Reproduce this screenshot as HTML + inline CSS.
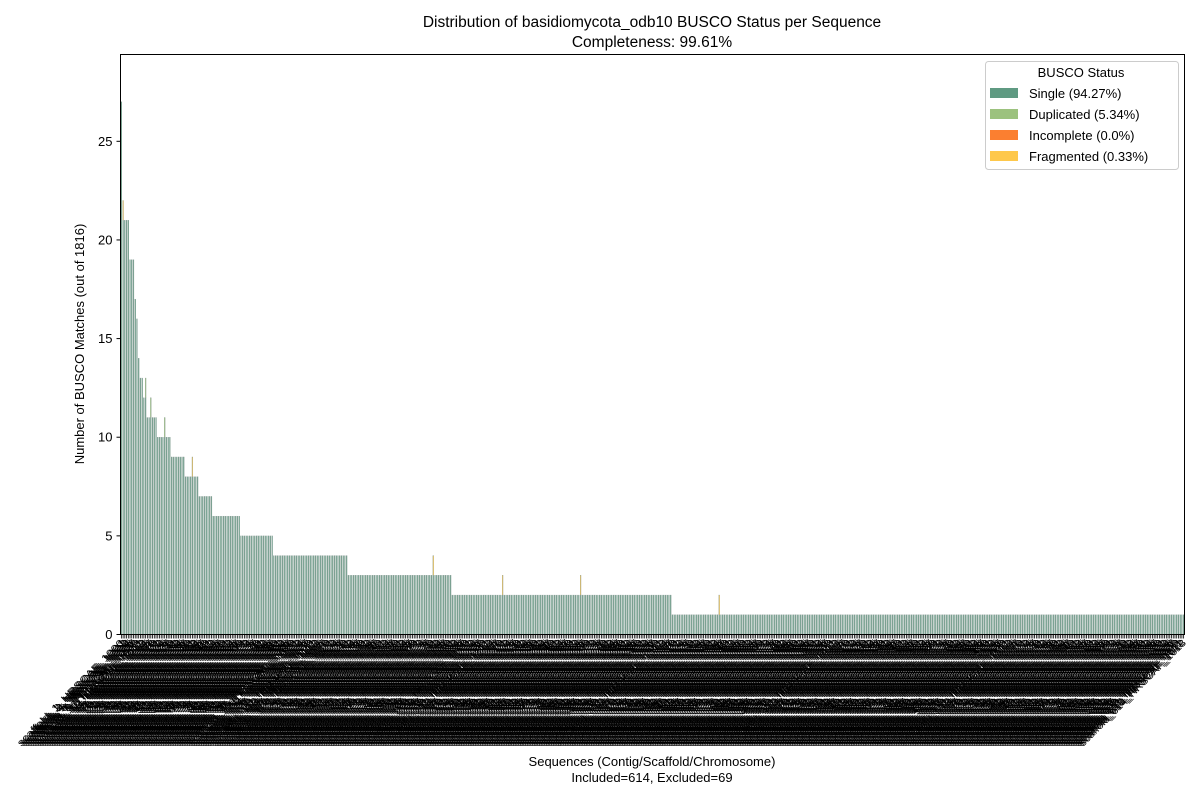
<!DOCTYPE html>
<html><head><meta charset="utf-8"><style>
body{margin:0;background:#fff}
svg{display:block;font-family:"Liberation Sans",sans-serif}
</style></head><body>
<svg id="chart" width="1200" height="800">
<text x="652" y="27" text-anchor="middle" font-size="15.5">Distribution of basidiomycota_odb10 BUSCO Status per Sequence</text>
<text x="652" y="47" text-anchor="middle" font-size="15.5">Completeness: 99.61%</text>
<text transform="translate(84,344) rotate(-90)" text-anchor="middle" font-size="13">Number of BUSCO Matches (out of 1816)</text>
<text x="652" y="766" text-anchor="middle" font-size="13">Sequences (Contig/Scaffold/Chromosome)</text>
<text x="652" y="782" text-anchor="middle" font-size="13">Included=614, Excluded=69</text>
<g id="bars"></g>
<g id="xticks"></g>
<g id="yticks"></g>
<rect x="120.5" y="54.5" width="1064" height="580" fill="none" stroke="#000" stroke-width="1"/>
<g>
<rect x="985.5" y="61.5" width="193" height="108" rx="3" fill="#fff" fill-opacity="0.85" stroke="#ccc"/>
<text x="1081" y="77" text-anchor="middle" font-size="13">BUSCO Status</text>
<rect x="990" y="88" width="28" height="10" fill="#5f9a82"/>
<text x="1029" y="98" font-size="13">Single (94.27%)</text>
<rect x="990" y="109" width="28" height="10" fill="#9cc27e"/>
<text x="1029" y="119" font-size="13">Duplicated (5.34%)</text>
<rect x="990" y="130" width="28" height="10" fill="#fb7f30"/>
<text x="1029" y="140" font-size="13">Incomplete (0.0%)</text>
<rect x="990" y="151" width="28" height="10" fill="#fec84b"/>
<text x="1029" y="161" font-size="13">Fragmented (0.33%)</text>
</g>
</svg>
<script>
const levelValues = [27,21,19,17,16,14,13,12,11,10,9,8,7,6,5,4,3,2,1];
const levelCounts = [1,4,3,1,1,1,2,2,6,8,8,8,8,16,19,43,60,127,296];
const fragmentedIdx = [1,41,180,220,265,345];
const duplicatedIdx = [14,17,25];
const yTicks = [0,5,10,15,20,25];

const NS="http://www.w3.org/2000/svg";
const X0=120.5, X1=1184.5, Y0=634.5, Ytop=54.5, YMAX=29.4;
const single=[];
levelValues.forEach((v,k)=>{for(let j=0;j<levelCounts[k];j++)single.push(v);});
const N=single.length;
const dup=new Array(N).fill(0), frag=new Array(N).fill(0);
duplicatedIdx.forEach(i=>{if(i<N)dup[i]=1;});
fragmentedIdx.forEach(i=>{if(i<N)frag[i]=1;});
const step=(X1-X0)/N;
const xs=i=>X0+(i+0.5)*step;
const ys=v=>Y0-(v/YMAX)*(Y0-Ytop);
const bars=document.getElementById('bars');
function seg(i,a,b,col,name){
  if(b<=a)return;
  const r=document.createElementNS(NS,'rect');
  r.setAttribute('x',xs(i)-step*0.25);
  r.setAttribute('width',step*0.5);
  r.setAttribute('y',ys(b));
  r.setAttribute('height',ys(a)-ys(b));
  r.setAttribute('fill',col);
  r.setAttribute('stroke','#8a9a94');
  r.setAttribute('stroke-width','0.3');
  
  
  bars.appendChild(r);
}
for(let i=0;i<N;i++){
  seg(i,0,single[i],'#5f9a82','bar-single');
  seg(i,single[i],single[i]+dup[i],'#9cc27e','bar-duplicated');
  seg(i,single[i]+dup[i],single[i]+dup[i]+frag[i],'#fec84b','bar-fragmented');
}
const xt=document.getElementById('xticks');
for(let i=0;i<N;i++){
  const l=document.createElementNS(NS,'line');
  l.setAttribute('x1',xs(i));l.setAttribute('x2',xs(i));
  l.setAttribute('y1',Y0);l.setAttribute('y2',Y0+4);
  l.setAttribute('stroke','#000');l.setAttribute('stroke-width','0.8');
  
  
  xt.appendChild(l);
  const t=document.createElementNS(NS,'text');
  t.setAttribute('transform',`translate(${xs(i)+3},${Y0+9}) rotate(-45)`);
  t.setAttribute('text-anchor','end');
  t.setAttribute('font-size','10');
  t.setAttribute('textLength','146');
  t.setAttribute('lengthAdjust','spacingAndGlyphs');
  t.textContent='scaffold_'+(i+1)+'_HRSCAF_'+(1000+i);
  
  
  xt.appendChild(t);
}
const yt=document.getElementById('yticks');
yTicks.forEach(v=>{
  const l=document.createElementNS(NS,'line');
  l.setAttribute('x1',X0-4);l.setAttribute('x2',X0);
  l.setAttribute('y1',ys(v));l.setAttribute('y2',ys(v));
  l.setAttribute('stroke','#000');
  
  
  yt.appendChild(l);
  const t=document.createElementNS(NS,'text');
  t.setAttribute('x',X0-8);t.setAttribute('y',ys(v)+4.5);
  t.setAttribute('text-anchor','end');t.setAttribute('font-size','13');
  t.textContent=v;
  
  
  yt.appendChild(t);
});
</script>
</body></html>
